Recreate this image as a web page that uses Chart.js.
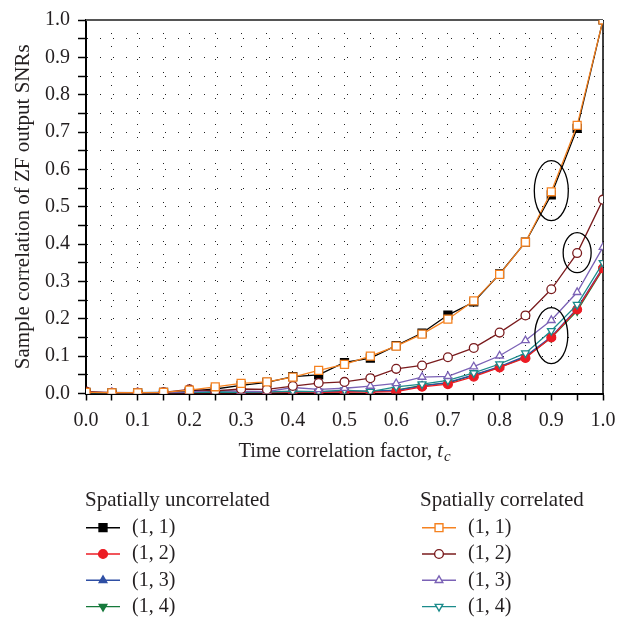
<!DOCTYPE html>
<html>
<head>
<meta charset="utf-8">
<script src="https://cdn.jsdelivr.net/npm/chart.js@4.4.1/dist/chart.umd.min.js"></script>
<style>
  html, body { margin: 0; padding: 0; background: #fff; }
  canvas { display: block; }
</style>
</head>
<body>
<canvas id="chart" width="633" height="623"></canvas>
<script>
// time correlation factor t_c
const tc = [0, 0.05, 0.1, 0.15, 0.2, 0.25, 0.3, 0.35, 0.4, 0.45, 0.5,
            0.55, 0.6, 0.65, 0.7, 0.75, 0.8, 0.85, 0.9, 0.95, 1.0];

// spatially uncorrelated
const unc11 = [0.003, 0.002, 0.002, 0.003, 0.006, 0.012, 0.022, 0.030, 0.045, 0.050, 0.083, 0.095, 0.128, 0.162, 0.210, 0.245, 0.320, 0.405, 0.532, 0.710, 1.0];
const unc12 = [0.004, 0.002, 0.002, 0.002, 0.002, 0.002, 0.002, 0.002, 0.003, 0.003, 0.004, 0.004, 0.005, 0.018, 0.025, 0.045, 0.070, 0.095, 0.150, 0.225, 0.335];
const unc13 = [0.002, 0.002, 0.002, 0.002, 0.003, 0.004, 0.003, 0.003, 0.004, 0.005, 0.006, 0.006, 0.008, 0.020, 0.030, 0.050, 0.072, 0.100, 0.152, 0.228, 0.338];
const unc14 = [0.002, 0.002, 0.002, 0.002, 0.003, 0.003, 0.003, 0.003, 0.004, 0.004, 0.005, 0.006, 0.009, 0.022, 0.028, 0.049, 0.070, 0.098, 0.149, 0.221, 0.333];

// spatially correlated
const corr11 = [0.003, 0.002, 0.002, 0.003, 0.009, 0.018, 0.027, 0.031, 0.044, 0.062, 0.078, 0.100, 0.127, 0.159, 0.199, 0.248, 0.319, 0.405, 0.540, 0.718, 1.0];
const corr12 = [0.005, 0.001, 0.002, 0.003, 0.011, 0.007, 0.012, 0.011, 0.020, 0.028, 0.031, 0.041, 0.066, 0.075, 0.097, 0.122, 0.163, 0.209, 0.279, 0.376, 0.519];
const corr13 = [0.003, 0.003, 0.002, 0.003, 0.004, 0.009, 0.006, 0.005, 0.016, 0.011, 0.014, 0.020, 0.027, 0.044, 0.046, 0.072, 0.101, 0.142, 0.196, 0.271, 0.392];
const corr14 = [0.003, 0.002, 0.002, 0.003, 0.003, 0.004, 0.003, 0.004, 0.006, 0.005, 0.009, 0.005, 0.018, 0.025, 0.035, 0.055, 0.079, 0.108, 0.168, 0.238, 0.350];

const seriesLabels = ['(1, 1)', '(1, 2)', '(1, 3)', '(1, 4)'];
const groupTitles = ['Spatially uncorrelated', 'Spatially correlated'];
const tickLabels = ['0.0', '0.1', '0.2', '0.3', '0.4', '0.5', '0.6', '0.7', '0.8', '0.9', '1.0'];

// circled groups (centre in data units)
const circled = [
  { x: 0.9, y: 0.543, rx: 17, ry: 30 },
  { x: 0.95, y: 0.377, rx: 14, ry: 20 },
  { x: 0.9, y: 0.155, rx: 16.5, ry: 28 }
];

const FONT = '"Liberation Serif", "DejaVu Serif", serif';
Chart.defaults.font.family = FONT;
Chart.defaults.color = '#231f20';

function pts(ys) {
  return tc.map((x, i) => ({ x: x, y: ys[i] }));
}

function series(label, ys, color, style, rot, open, order) {
  return {
    label: label,
    data: pts(ys),
    borderColor: color,
    backgroundColor: color,
    borderWidth: 1.3,
    pointStyle: style,
    pointRotation: rot,
    pointRadius: style === 'rect' ? 5.6 : 4.4,
    pointBorderWidth: 1.3,
    pointBorderColor: color,
    pointBackgroundColor: open ? '#fff' : color,
    tension: 0,
    order: order
  };
}

const datasets = [
  series(seriesLabels[0], unc11, '#000000', 'rect', 0, false, 2),
  series(seriesLabels[1], unc12, '#ec1c24', 'circle', 0, false, 2),
  series(seriesLabels[2], unc13, '#2f4fa4', 'triangle', 0, false, 2),
  series(seriesLabels[3], unc14, '#16793b', 'triangle', 180, false, 2),
  series(seriesLabels[0], corr11, '#f58220', 'rect', 0, true, 1),
  series(seriesLabels[1], corr12, '#7a1b1d', 'circle', 0, true, 1),
  series(seriesLabels[2], corr13, '#7b62b6', 'triangle', 0, true, 1),
  series(seriesLabels[3], corr14, '#1b8b8b', 'triangle', 180, true, 1)
];

const extras = {
  id: 'extras',
  beforeDatasetsDraw(chart) {
    const { ctx, chartArea: a } = chart;
    ctx.save();
    // top and right frame
    ctx.strokeStyle = '#555';
    ctx.lineWidth = 2;
    ctx.beginPath();
    ctx.moveTo(a.left, a.top);
    ctx.lineTo(a.right, a.top);
    ctx.stroke();
    ctx.strokeStyle = '#000';
    ctx.lineWidth = 1.5;
    ctx.beginPath();
    ctx.moveTo(a.right, a.top);
    ctx.lineTo(a.right, a.bottom);
    ctx.stroke();
    ctx.restore();
  },
  afterDatasetsDraw(chart) {
    const { ctx } = chart;
    const xs = chart.scales.x, ys = chart.scales.y;
    ctx.save();
    ctx.strokeStyle = '#000';
    ctx.lineWidth = 1.3;
    circled.forEach((c) => {
      ctx.beginPath();
      ctx.ellipse(xs.getPixelForValue(c.x), ys.getPixelForValue(c.y), c.rx, c.ry, 0, 0, Math.PI * 2);
      ctx.stroke();
    });
    ctx.restore();
  },
  afterDraw(chart) {
    const { ctx, chartArea: a } = chart;
    ctx.save();
    ctx.fillStyle = '#231f20';
    ctx.textBaseline = 'alphabetic';

    // x axis title with italic subscript
    const t1 = 'Time correlation factor, ';
    ctx.font = '20.5px ' + FONT;
    const w1 = ctx.measureText(t1).width;
    ctx.font = 'italic 20.5px ' + FONT;
    const w2 = ctx.measureText('t').width;
    ctx.font = 'italic 15px ' + FONT;
    const w3 = ctx.measureText('c').width;
    let x0 = (a.left + a.right) / 2 - (w1 + w2 + w3 + 1) / 2;
    const base = 457;
    ctx.font = '20.5px ' + FONT;
    ctx.fillText(t1, x0, base);
    ctx.font = 'italic 20.5px ' + FONT;
    ctx.fillText('t', x0 + w1, base);
    ctx.font = 'italic 15px ' + FONT;
    ctx.fillText('c', x0 + w1 + w2 + 1, base + 4);

    // two-column legend
    const cols = [
      { title: groupTitles[0], x: 85, lineX: 86, items: [0, 1, 2, 3] },
      { title: groupTitles[1], x: 420, lineX: 422, items: [4, 5, 6, 7] }
    ];
    ctx.textBaseline = 'middle';
    cols.forEach((col) => {
      ctx.font = '21px ' + FONT;
      ctx.fillStyle = '#231f20';
      ctx.fillText(col.title, col.x, 500);
      col.items.forEach((di, row) => {
        const ds = chart.data.datasets[di];
        const y = 527.7 + row * 26.3;
        ctx.strokeStyle = ds.borderColor;
        ctx.lineWidth = 1.4;
        ctx.beginPath();
        ctx.moveTo(col.lineX, y);
        ctx.lineTo(col.lineX + 34, y);
        ctx.stroke();
        ctx.fillStyle = ds.pointBackgroundColor;
        ctx.strokeStyle = ds.borderColor;
        Chart.helpers.drawPoint(ctx, {
          pointStyle: ds.pointStyle,
          rotation: ds.pointRotation,
          radius: ds.pointRadius,
          borderWidth: 1.3
        }, col.lineX + 17, y);
        ctx.fillStyle = '#231f20';
        ctx.font = '20px ' + FONT;
        ctx.fillText(ds.label, col.lineX + 46, y);
      });
    });
    ctx.restore();
  }
};

new Chart(document.getElementById('chart'), {
  type: 'line',
  data: { datasets: datasets },
  plugins: [extras],
  options: {
    responsive: false,
    animation: false,
    layout: { padding: { top: 12.5, right: 30, bottom: 179.5, left: 0 } },
    plugins: { legend: { display: false }, tooltip: { enabled: false } },
    scales: {
      x: {
        type: 'linear',
        min: 0,
        max: 1,
        afterFit: (s) => { s.height = 50; },
        ticks: {
          stepSize: 0.05,
          autoSkip: false,
          maxRotation: 0,
          padding: 8,
          font: { size: 20 },
          color: '#231f20',
          callback: (v, i) => (i % 2 === 0 ? tickLabels[i / 2] : '')
        },
        grid: { color: '#222', lineWidth: 1, tickLength: 7, tickColor: '#000', tickWidth: 1.5 },
        border: { color: '#000', width: 2, dash: [1, 12] }
      },
      y: {
        type: 'linear',
        min: 0,
        max: 1,
        afterFit: (s) => { s.width = 86; },
        ticks: {
          stepSize: 0.05,
          autoSkip: false,
          padding: 8,
          font: { size: 20 },
          color: '#231f20',
          callback: (v, i) => (i % 2 === 0 ? tickLabels[i / 2] : '')
        },
        grid: { color: '#222', lineWidth: 1, tickLength: 8, tickColor: '#000', tickWidth: 1.5 },
        border: { color: '#000', width: 2, dash: [1, 12] },
        title: {
          display: true,
          text: 'Sample correlation of ZF output SNRs',
          font: { size: 21 },
          color: '#231f20',
          padding: { top: 11, bottom: 0 }
        }
      }
    }
  }
});
</script>
</body>
</html>
